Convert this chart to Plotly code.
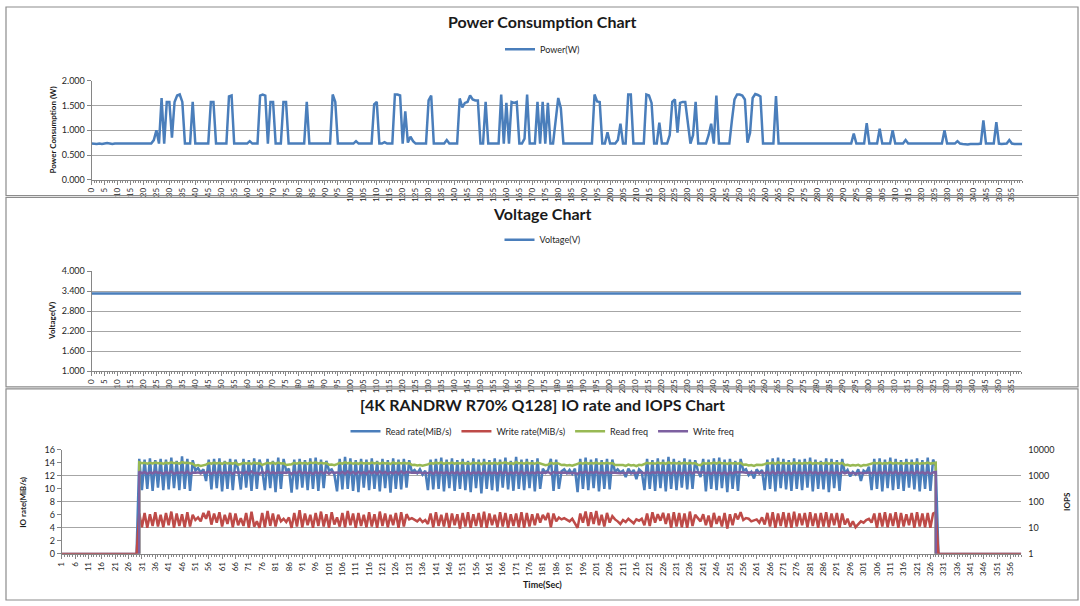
import plotly.graph_objects as go

# ---------------- data ----------------
power_w = [
    0.73,0.72,0.72,0.73,0.72,0.73,0.74,0.73,0.72,0.73,
    0.73,0.72,0.73,0.72,0.73,0.73,0.72,0.72,0.73,0.72,
    0.73,0.73,0.72,0.73,0.80,1.00,0.73,1.65,0.73,1.57,
    1.57,0.85,1.57,1.70,1.72,1.57,0.73,0.73,0.73,1.57,
    0.73,0.73,0.73,0.73,0.73,0.73,1.57,1.57,0.73,0.73,
    0.73,0.73,0.73,1.68,1.70,0.73,0.73,0.73,0.73,0.73,
    0.73,0.78,0.73,0.73,0.73,1.70,1.72,1.70,0.73,1.57,
    1.57,0.73,0.73,0.73,1.57,1.57,0.73,0.73,0.73,0.73,
    0.73,0.73,0.73,1.57,0.73,0.73,0.73,0.73,0.73,0.73,
    0.73,0.73,0.73,1.72,1.57,0.73,0.73,0.73,0.73,0.73,
    0.73,0.73,0.78,0.73,0.73,0.73,0.73,0.73,0.73,1.52,
    1.57,0.73,0.73,0.76,0.73,0.73,0.73,1.72,1.72,1.70,
    0.73,1.38,0.75,0.87,0.78,0.73,0.73,0.73,0.73,0.73,
    1.60,1.70,0.73,0.73,0.73,0.73,0.73,0.80,0.73,0.73,
    0.73,0.73,1.64,1.46,1.55,1.57,1.70,1.62,1.60,1.60,
    0.73,0.73,1.57,0.73,0.73,0.73,0.73,0.73,1.72,0.73,
    1.55,0.73,1.57,1.55,1.57,0.73,0.73,0.83,1.72,0.73,
    0.73,0.73,1.57,0.73,1.57,0.73,1.55,0.73,0.73,1.20,
    1.65,1.45,0.73,0.73,0.73,0.73,0.73,0.73,0.73,0.73,
    0.73,0.73,0.73,0.73,1.72,1.58,1.57,0.73,0.73,0.96,
    0.73,0.73,0.73,0.80,1.13,0.73,0.73,1.72,1.72,0.73,
    0.73,0.73,0.73,0.73,1.72,1.70,1.55,0.73,0.73,1.15,
    0.73,0.73,0.73,0.90,1.57,1.62,0.95,1.55,1.57,1.57,
    1.20,0.73,0.90,1.57,0.73,0.73,0.73,0.73,0.90,1.13,
    0.73,1.70,0.73,0.73,0.73,0.73,0.73,1.20,1.62,1.72,
    1.72,1.70,1.62,0.75,0.95,1.65,1.73,1.71,1.68,0.73,
    0.73,0.73,0.73,0.73,1.69,0.73,0.73,0.73,0.73,0.73,
    0.73,0.73,0.73,0.73,0.73,0.73,0.73,0.73,0.73,0.73,
    0.73,0.73,0.73,0.73,0.73,0.73,0.73,0.73,0.73,0.73,
    0.73,0.73,0.73,0.73,0.93,0.73,0.73,0.73,0.73,1.14,
    0.73,0.73,0.73,0.73,1.03,0.73,0.73,0.73,0.73,1.00,
    0.73,0.73,0.73,0.73,0.80,0.73,0.73,0.73,0.73,0.73,
    0.73,0.73,0.73,0.73,0.73,0.73,0.73,0.73,0.73,1.00,
    0.73,0.73,0.73,0.73,0.78,0.73,0.72,0.71,0.71,0.72,
    0.72,0.71,0.72,0.73,1.20,0.73,0.73,0.73,0.73,1.16,
    0.73,0.72,0.73,0.73,0.80,0.73,0.72,0.72,0.72,0.72,
]

voltage_v = [
    3.33,3.33,3.33,3.33,3.33,3.33,3.33,3.33,3.33,3.33,
    3.33,3.33,3.33,3.33,3.33,3.33,3.33,3.33,3.33,3.33,
    3.33,3.33,3.33,3.33,3.33,3.33,3.32,3.33,3.32,3.32,
    3.33,3.32,3.33,3.33,3.32,3.33,3.32,3.33,3.32,3.33,
    3.33,3.32,3.33,3.33,3.33,3.32,3.33,3.33,3.33,3.32,
    3.33,3.33,3.32,3.33,3.33,3.33,3.33,3.33,3.33,3.33,
    3.33,3.33,3.33,3.33,3.32,3.33,3.32,3.33,3.32,3.33,
    3.32,3.33,3.33,3.32,3.33,3.33,3.33,3.33,3.33,3.33,
    3.33,3.33,3.33,3.32,3.33,3.33,3.33,3.33,3.33,3.33,
    3.33,3.33,3.32,3.33,3.33,3.33,3.33,3.33,3.33,3.33,
    3.33,3.33,3.33,3.33,3.33,3.33,3.33,3.33,3.33,3.33,
    3.33,3.33,3.33,3.33,3.33,3.33,3.33,3.33,3.33,3.33,
    3.33,3.33,3.33,3.33,3.33,3.33,3.33,3.33,3.33,3.33,
    3.33,3.33,3.33,3.33,3.33,3.33,3.33,3.33,3.33,3.33,
    3.33,3.33,3.33,3.33,3.33,3.33,3.33,3.33,3.33,3.33,
    3.33,3.33,3.33,3.33,3.33,3.33,3.33,3.33,3.33,3.33,
    3.33,3.33,3.33,3.33,3.33,3.33,3.33,3.33,3.33,3.33,
    3.33,3.33,3.33,3.33,3.33,3.33,3.33,3.33,3.33,3.33,
    3.33,3.33,3.33,3.33,3.33,3.33,3.33,3.33,3.33,3.33,
    3.33,3.33,3.33,3.33,3.33,3.33,3.33,3.33,3.33,3.33,
    3.33,3.33,3.33,3.33,3.33,3.33,3.33,3.33,3.33,3.33,
    3.33,3.33,3.33,3.33,3.33,3.33,3.33,3.33,3.33,3.33,
    3.33,3.33,3.33,3.33,3.33,3.33,3.33,3.33,3.33,3.33,
    3.33,3.33,3.33,3.33,3.33,3.33,3.33,3.33,3.33,3.33,
    3.33,3.33,3.33,3.33,3.33,3.33,3.33,3.33,3.33,3.33,
    3.33,3.33,3.33,3.33,3.33,3.33,3.33,3.33,3.33,3.33,
    3.33,3.33,3.33,3.33,3.33,3.33,3.33,3.33,3.33,3.33,
    3.33,3.33,3.33,3.33,3.33,3.33,3.33,3.33,3.33,3.33,
    3.33,3.33,3.33,3.33,3.33,3.33,3.33,3.33,3.33,3.33,
    3.33,3.33,3.33,3.33,3.33,3.33,3.33,3.33,3.33,3.33,
    3.33,3.33,3.33,3.33,3.33,3.33,3.33,3.33,3.33,3.33,
    3.33,3.33,3.33,3.33,3.33,3.33,3.33,3.33,3.33,3.33,
    3.33,3.33,3.33,3.33,3.33,3.33,3.33,3.33,3.33,3.33,
    3.33,3.33,3.33,3.33,3.33,3.33,3.33,3.33,3.33,3.33,
    3.33,3.33,3.33,3.33,3.33,3.33,3.33,3.33,3.33,3.33,
    3.33,3.33,3.33,3.33,3.33,3.33,3.33,3.33,3.33,3.33,
]

# IO chart: time 1..360 s
read_rate = [
    0,0,0,0,0,0,0,0,0,0,
    0,0,0,0,0,0,0,0,0,0,
    0,0,0,0,0,0,0,0,0,
    14.6,9.8,14.5,10.0,14.7,9.7,14.4,10.2,14.6,9.8,
    14.5,9.9,14.8,10.1,14.3,9.8,15.0,10.0,14.6,9.7,
    14.4,12.8,13.2,12.5,13.0,11.2,14.5,9.9,14.6,10.1,
    14.7,9.6,14.3,10.0,14.6,9.8,14.5,13.0,9.9,14.6,
    10.2,14.4,9.7,14.7,10.0,14.5,12.9,9.8,14.6,10.1,
    14.3,9.5,14.8,10.0,14.6,12.7,13.1,9.4,14.5,9.9,
    14.6,10.2,14.4,9.8,14.7,10.0,14.8,9.7,14.5,10.1,
    14.3,12.8,13.0,12.2,9.6,14.6,9.9,14.9,10.0,14.7,
    9.7,14.4,9.5,14.6,10.2,14.5,9.8,14.7,10.0,14.3,
    9.6,14.6,10.1,14.4,9.4,14.7,10.0,14.5,9.9,14.6,
    10.2,14.4,12.6,12.9,12.4,13.0,12.2,12.8,9.8,14.5,
    9.9,14.6,10.0,14.8,9.6,14.5,10.1,14.7,9.7,14.4,
    10.0,14.6,9.8,14.3,9.5,14.7,10.1,14.5,9.3,14.6,
    10.0,14.4,9.8,14.7,9.6,14.5,10.2,14.8,9.9,14.3,
    9.7,14.9,10.0,14.5,9.8,14.6,10.1,14.4,9.6,14.7,
    10.0,13.1,12.5,12.9,14.6,9.7,14.5,10.0,12.7,13.0,
    12.4,12.9,12.3,13.1,9.5,14.6,10.0,14.8,9.8,14.5,
    10.1,14.7,9.6,14.4,10.0,14.6,9.9,14.5,12.6,13.0,
    12.5,12.8,11.8,13.1,12.4,12.9,11.5,13.0,12.6,9.8,
    14.6,10.0,14.4,9.7,14.7,10.1,14.5,9.6,14.9,10.0,
    14.6,9.8,14.3,10.2,14.7,9.9,14.5,10.0,14.4,12.8,
    11.8,14.6,9.6,14.5,10.0,14.7,9.8,14.8,10.1,14.5,
    9.5,14.6,10.0,14.3,9.7,14.6,12.8,13.0,12.1,12.6,
    11.6,13.0,12.4,12.9,9.8,14.5,10.0,14.7,9.6,14.8,
    10.1,14.6,9.9,14.4,9.7,14.7,10.0,14.5,9.8,14.6,
    10.2,14.8,9.6,14.5,10.0,14.3,9.9,14.7,9.5,14.6,
    10.1,14.4,9.7,14.6,12.4,12.9,11.9,12.6,12.2,13.0,
    11.2,12.8,12.5,13.4,9.8,14.6,10.0,14.7,9.6,14.5,
    10.1,14.8,9.8,14.6,10.0,14.4,9.7,14.6,10.2,14.5,
    9.9,14.7,9.6,14.4,10.0,14.8,9.7,14.5,13.5,
    0,0,0,0,0,0,0,0,0,0,
    0,0,0,0,0,0,0,0,0,0,
    0,0,0,0,0,0,0,0,0,0,
    0,0,
]

write_rate = [
    0,0,0,0,0,0,0,0,0,0,
    0,0,0,0,0,0,0,0,0,0,
    0,0,0,0,0,0,0,0,0,
    6.2,4.1,6.3,4.0,6.1,4.3,6.4,4.2,6.0,4.1,
    6.3,4.4,6.5,4.0,6.2,4.3,6.1,4.1,6.4,4.2,
    6.0,5.2,5.6,5.0,6.3,5.4,6.6,4.5,6.2,4.8,
    6.4,4.2,6.0,4.6,6.3,4.1,6.2,4.4,5.5,4.3,
    6.3,4.0,6.5,4.2,5.0,4.0,6.3,4.1,6.6,4.3,
    6.2,4.2,6.0,5.0,5.4,4.9,5.6,4.0,6.3,4.2,
    6.7,4.1,6.2,4.4,6.0,4.0,6.3,4.3,6.5,4.2,
    6.1,4.0,6.4,4.5,5.6,4.2,6.3,4.1,6.6,4.4,
    6.2,4.0,6.3,4.3,6.0,4.1,6.4,4.2,6.1,4.0,
    6.5,4.3,6.2,4.1,6.0,4.4,6.3,4.0,6.4,4.2,
    6.1,5.3,5.5,5.2,5.0,5.4,4.9,5.2,4.6,6.2,
    4.1,6.4,4.3,6.0,4.2,6.3,4.0,6.2,4.4,6.1,
    3.9,6.3,4.2,6.4,4.0,6.1,4.3,6.3,4.1,6.5,
    4.0,6.2,4.4,6.0,4.1,6.4,4.2,6.3,4.0,6.1,
    4.3,6.2,4.1,6.4,4.0,6.3,4.2,6.1,4.4,6.2,
    4.8,6.0,5.2,6.3,4.1,6.2,5.0,5.6,5.3,5.5,
    5.2,5.0,5.4,4.8,4.0,6.2,4.8,6.5,4.3,6.4,
    4.6,6.6,4.4,6.0,4.2,6.3,4.8,5.8,5.3,5.0,
    4.6,5.2,4.9,5.4,5.0,4.7,5.3,5.1,5.4,4.4,
    6.2,4.3,6.4,4.8,6.1,5.1,6.3,4.6,6.2,4.0,
    6.4,4.2,6.3,4.1,6.2,4.0,6.5,4.3,6.0,5.4,
    5.0,6.1,4.4,5.9,4.1,6.3,4.6,5.8,4.2,6.3,
    3.9,6.1,4.4,6.2,5.3,6.4,5.2,5.5,5.4,5.0,
    5.1,5.3,4.8,5.6,4.5,6.3,4.2,6.4,4.0,6.2,
    4.3,6.4,4.1,6.3,4.0,6.5,4.2,6.2,4.4,6.3,
    4.1,6.4,4.3,6.2,4.0,6.3,4.2,6.4,4.1,6.2,
    4.4,6.3,4.0,6.2,4.5,5.4,4.2,5.0,4.1,4.6,
    5.0,4.8,5.2,5.4,4.8,6.2,4.0,6.3,4.2,6.4,
    4.1,6.2,4.3,6.4,4.0,6.3,4.2,6.1,4.4,6.3,
    4.0,6.4,4.2,6.2,4.1,6.3,4.0,6.2,6.4,
    0,0,0,0,0,0,0,0,0,0,
    0,0,0,0,0,0,0,0,0,0,
    0,0,0,0,0,0,0,0,0,0,
    0,0,
]

read_freq = [
    0,0,0,0,0,0,0,0,0,0,
    0,0,0,0,0,0,0,0,0,0,
    0,0,0,0,0,0,0,0,0,
    3300,3050,3200,2950,3150,3000,3250,3050,3100,2900,
    3200,3000,3300,3050,3150,2950,3350,3100,3200,3000,
    2900,2450,2600,2400,2550,2700,3100,2950,3200,3000,
    3150,2900,3250,3000,3100,2950,3200,2700,2850,3150,
    3000,3100,2850,3250,2950,3100,2650,2800,3150,3000,
    3200,2900,3250,2950,3050,2600,2700,2800,3150,2950,
    3200,3000,3150,2900,3250,3050,3300,2950,3150,3000,
    3100,2650,2700,2550,2800,3150,2950,3300,3000,3200,
    2900,3150,2850,3200,3000,3100,2950,3250,3000,3150,
    2900,3200,3000,3100,2850,3250,2950,3150,3000,3200,
    3000,3100,2600,2650,2500,2600,2450,2550,2750,3100,
    2950,3200,3000,3300,2900,3150,3000,3250,2950,3100,
    3000,3200,2950,3100,2850,3250,3000,3150,2800,3200,
    3000,3100,2950,3250,2900,3150,3050,3300,2950,3100,
    2900,3350,3000,3150,2950,3200,3000,3100,2900,3250,
    3000,2650,2550,2700,3150,2900,3100,2950,2600,2650,
    2500,2600,2450,2650,2800,3150,2950,3250,2950,3100,
    3000,3200,2900,3100,3000,3150,2950,3100,2600,2650,
    2550,2600,2400,2700,2500,2600,2350,2650,2550,2800,
    3150,3000,3100,2900,3250,3000,3150,2900,3300,3000,
    3150,2950,3100,3000,3200,2950,3150,3000,3100,2650,
    2550,3150,2900,3100,3000,3250,2950,3300,3000,3100,
    2850,3150,3000,3100,2900,3150,2650,2700,2500,2600,
    2400,2650,2550,2600,2800,3100,3000,3200,2900,3300,
    3000,3150,2950,3100,2900,3200,3000,3150,2950,3150,
    3000,3300,2900,3150,3000,3100,2950,3200,2850,3150,
    3000,3100,2900,3150,2550,2650,2450,2600,2500,2650,
    2350,2600,2550,2750,2800,3150,3000,3200,2900,3100,
    3000,3300,2950,3150,3000,3100,2900,3150,3000,3100,
    2950,3200,2900,3100,3000,3250,2950,3100,3200,
    0,0,0,0,0,0,0,0,0,0,
    0,0,0,0,0,0,0,0,0,0,
    0,0,0,0,0,0,0,0,0,0,
    0,0,
]

write_freq = [
    0,0,0,0,0,0,0,0,0,0,
    0,0,0,0,0,0,0,0,0,0,
    0,0,0,0,0,0,0,0,0,
    1450,1250,1400,1200,1350,1250,1450,1300,1350,1200,
    1400,1250,1450,1200,1350,1300,1400,1250,1450,1200,
    1350,1300,1350,1250,1400,1300,1450,1200,1400,1250,
    1450,1250,1350,1300,1400,1200,1400,1300,1350,1250,
    1400,1200,1450,1250,1300,1200,1400,1250,1500,1250,
    1400,1250,1350,1300,1350,1300,1400,1200,1400,1250,
    1500,1250,1400,1250,1350,1200,1400,1250,1450,1250,
    1400,1200,1400,1300,1350,1250,1400,1200,1450,1250,
    1400,1200,1400,1250,1350,1200,1450,1250,1400,1200,
    1450,1250,1400,1200,1350,1250,1400,1200,1450,1250,
    1400,1350,1300,1350,1300,1350,1250,1300,1250,1400,
    1200,1450,1250,1350,1250,1400,1200,1400,1250,1400,
    1150,1400,1250,1450,1200,1350,1250,1400,1200,1450,
    1200,1400,1250,1350,1200,1450,1250,1400,1200,1350,
    1250,1400,1200,1450,1200,1400,1250,1350,1250,1400,
    1300,1350,1300,1400,1200,1400,1300,1350,1300,1350,
    1300,1250,1300,1250,1200,1400,1300,1450,1250,1400,
    1300,1450,1250,1350,1250,1400,1300,1350,1300,1250,
    1250,1300,1250,1350,1300,1250,1300,1300,1350,1250,
    1400,1250,1400,1300,1400,1300,1400,1250,1400,1200,
    1450,1250,1400,1200,1400,1200,1450,1250,1400,1350,
    1300,1400,1250,1350,1200,1400,1250,1350,1200,1400,
    1150,1400,1250,1400,1350,1400,1350,1300,1350,1300,
    1300,1350,1250,1400,1250,1400,1200,1450,1200,1400,
    1250,1450,1200,1400,1200,1450,1250,1400,1250,1400,
    1200,1450,1250,1400,1200,1400,1250,1450,1200,1400,
    1250,1400,1200,1400,1250,1350,1250,1300,1200,1250,
    1300,1250,1300,1350,1250,1400,1200,1400,1250,1450,
    1200,1400,1250,1450,1200,1400,1250,1350,1250,1400,
    1200,1450,1250,1400,1200,1400,1200,1350,1400,
    0,0,0,0,0,0,0,0,0,0,
    0,0,0,0,0,0,0,0,0,0,
    0,0,0,0,0,0,0,0,0,0,
    0,0,
]

power_ticks = list(range(0, 360, 5))
io_ticks = list(range(1, 361, 5))
power_yticks = [0.0, 0.5, 1.0, 1.5, 2.0]
voltage_yticks = [1.0, 1.6, 2.2, 2.8, 3.4, 4.0]
io_yticks = [0, 2, 4, 6, 8, 10, 12, 14, 16]
iops_ticks = [1, 10, 100, 1000, 10000]

# ---------------- figure ----------------
W, H = 1080, 606
FONT = "Lato"
TXT = "#262626"
GRID = "#A6A6A6"
AXL = "#868686"
BLUE, RED, GREEN, PURPLE = "#4A7EBB", "#BE4B48", "#98B954", "#7D60A0"


def fx(p):
    return p / W


def fy(p):
    return 1 - p / H


t_power = list(range(len(power_w)))
t_volt = list(range(len(voltage_v)))
t_io = list(range(1, len(read_rate) + 1))

fig = go.Figure()
fig.add_trace(go.Scatter(x=t_power, y=power_w, mode="lines", name="Power(W)",
                         line=dict(color=BLUE, width=2.5), xaxis="x", yaxis="y",
                         legend="legend"))
fig.add_trace(go.Scatter(x=t_volt, y=voltage_v, mode="lines", name="Voltage(V)",
                         line=dict(color=BLUE, width=2.5), xaxis="x2", yaxis="y2",
                         legend="legend2"))
fig.add_trace(go.Scatter(x=t_io, y=read_rate, mode="lines", name="Read rate(MiB/s)",
                         line=dict(color=BLUE, width=2.5), xaxis="x3", yaxis="y3",
                         legend="legend3"))
fig.add_trace(go.Scatter(x=t_io, y=write_rate, mode="lines", name="Write rate(MiB/s)",
                         line=dict(color=RED, width=2.5), xaxis="x3", yaxis="y3",
                         legend="legend3"))
fig.add_trace(go.Scatter(x=t_io, y=read_freq, mode="lines", name="Read freq",
                         line=dict(color=GREEN, width=2.5), xaxis="x3", yaxis="y4",
                         legend="legend3"))
fig.add_trace(go.Scatter(x=t_io, y=write_freq, mode="lines", name="Write freq",
                         line=dict(color=PURPLE, width=2.5), xaxis="x3", yaxis="y4",
                         legend="legend3"))

xcommon = dict(showgrid=False, showline=True, linecolor=AXL, linewidth=1,
               ticks="outside", ticklen=4, tickcolor=AXL, tickangle=-90,
               tickfont=dict(size=8, color=TXT, family=FONT), zeroline=False,
               minor=dict(ticks="outside", ticklen=2, dtick=1, tickcolor=AXL))
ycommon = dict(showgrid=True, gridcolor=GRID, gridwidth=1, showline=True,
               linecolor=AXL, linewidth=1, ticks="outside", ticklen=4,
               tickcolor=AXL, tickfont=dict(size=9, color=TXT, family=FONT),
               zeroline=False)

fig.update_layout(
    width=W, height=H, margin=dict(l=0, r=0, t=0, b=0),
    paper_bgcolor="white", plot_bgcolor="white",
    font=dict(family=FONT, color=TXT),
    xaxis=dict(xcommon, domain=[fx(87), fx(1022)], anchor="y", range=[0, 359],
               tickmode="array", tickvals=power_ticks),
    yaxis=dict(ycommon, domain=[fy(177), fy(76)], anchor="x", range=[0, 2],
               tickmode="array", tickvals=power_yticks, tickformat=".3f"),
    xaxis2=dict(xcommon, domain=[fx(87), fx(1021)], anchor="y2", range=[0, 359],
                tickmode="array", tickvals=power_ticks),
    yaxis2=dict(ycommon, domain=[fy(372), fy(270)], anchor="x2", range=[1, 4],
                tickmode="array", tickvals=voltage_yticks, tickformat=".3f"),
    xaxis3=dict(xcommon, domain=[fx(57), fx(1021)], anchor="y3", range=[1, 360],
                tickmode="array", tickvals=io_ticks),
    yaxis3=dict(ycommon, showgrid=False, domain=[fy(558), fy(452)], anchor="x3",
                range=[0, 16], tickmode="array", tickvals=io_yticks),
    yaxis4=dict(ycommon, overlaying="y3", side="right", anchor="x3", type="log",
                range=[0, 4], tickmode="array", tickvals=iops_ticks,
                ticktext=[str(v) for v in iops_ticks], showline=False,
                ticks="", ticklabelstandoff=6),
    showlegend=True,
    legend=dict(x=0.5, y=fy(44), xanchor="center", yanchor="middle",
                orientation="h", font=dict(size=9, color=TXT, family=FONT),
                bgcolor="rgba(0,0,0,0)"),
    legend2=dict(x=0.5, y=fy(238), xanchor="center", yanchor="middle",
                 orientation="h", font=dict(size=9, color=TXT, family=FONT),
                 bgcolor="rgba(0,0,0,0)"),
    legend3=dict(x=0.5, y=fy(433), xanchor="center", yanchor="middle",
                 orientation="h", font=dict(size=9, color=TXT, family=FONT),
                 bgcolor="rgba(0,0,0,0)", itemwidth=30),
)

# panel borders
for (y0, y1) in [(1, 193), (195, 388), (390, 605)]:
    fig.add_shape(type="rect", xref="paper", yref="paper",
                  x0=fx(1), x1=fx(1078), y0=fy(y1), y1=fy(y0),
                  line=dict(color="#8C8C8C", width=1.2), fillcolor="rgba(0,0,0,0)")

anns = [
    ("<b>Power Consumption Chart</b>", 540, 16, 16, 0),
    ("<b>Voltage Chart</b>", 540, 211, 16, 0),
    ("<b>[4K RANDRW R70% Q128] IO rate and IOPS Chart</b>", 540, 406, 16, 0),
    ("<b>Power Consumption (W)</b>", 48, 126, 8, -90),
    ("<b>Voltage(V)</b>", 47, 321, 8, -90),
    ("<b>IO rate(MiB/s)</b>", 18, 505, 8, -90),
    ("<b>IOPS</b>", 1067, 505, 8, -90),
    ("<b>Time(Sec)</b>", 540, 589, 9, 0),
]
for text, x, y, size, ang in anns:
    fig.add_annotation(text=text, x=fx(x), y=fy(y), xref="paper", yref="paper",
                       showarrow=False, textangle=ang, xanchor="center",
                       yanchor="middle", font=dict(size=size, color="#1a1a1a",
                                                   family=FONT))

fig.write_html(
    "out.html",
    config={"displayModeBar": False},
    post_script="document.body.style.margin='0';document.body.style.overflow='hidden';",
)
